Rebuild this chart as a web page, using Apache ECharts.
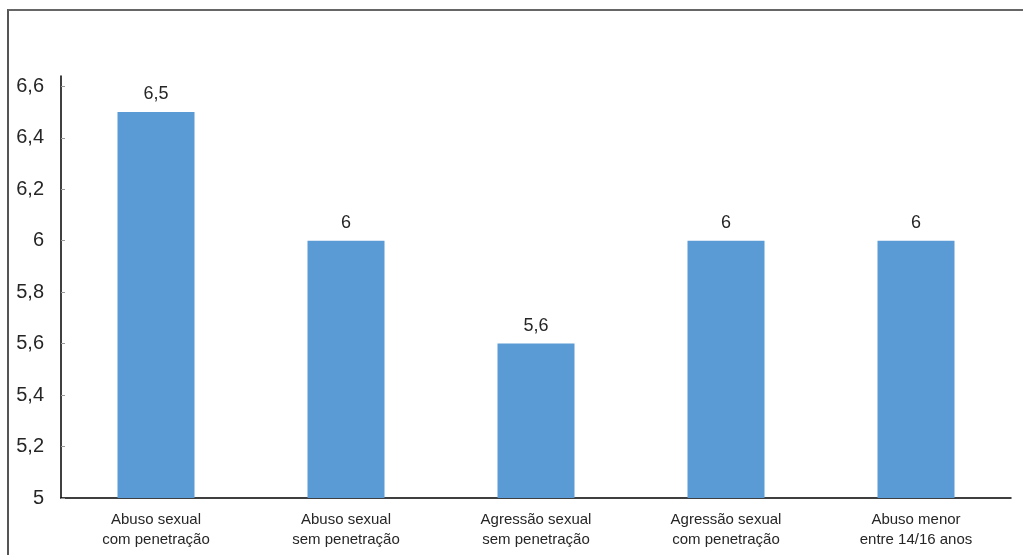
<!DOCTYPE html>
<html>
<head>
<meta charset="utf-8">
<script src="https://cdn.jsdelivr.net/npm/echarts@6/dist/echarts.min.js"></script>
<style>
    html, body { margin: 0; padding: 0; background: #fff; }
    #chart { width: 1023px; height: 555px; }
    #frame {
        position: absolute; left: 7px; top: 9px; right: 0; bottom: 0;
        border-left: 2px solid #555; border-top: 2px solid #666;
        pointer-events: none;
    }
</style>
</head>
<body>
<div id="chart"></div>
<div id="frame"></div>
<script>
    // categorias e valores
    const categorias = [
        'Abuso sexual\ncom penetração',
        'Abuso sexual\nsem penetração',
        'Agressão sexual\nsem penetração',
        'Agressão sexual\ncom penetração',
        'Abuso menor\nentre 14/16 anos'
    ]
    const valores = [6.5, 6, 5.6, 6, 6]
    const ticksY = [5, 5.2, 5.4, 5.6, 5.8, 6, 6.2, 6.4, 6.6]

    const virgula = (v) => String(v).replace('.', ',')

    const myChart = echarts.init(document.getElementById('chart'))
    myChart.setOption({
        animation: false,
        grid: {
            left: 61,
            right: 12,
            top: 76,
            bottom: 57,
        },
        xAxis: {
            type: 'category',
            data: categorias,
            axisLine: { lineStyle: { color: '#000', width: 1.5 } },
            axisTick: { show: false },
            axisLabel: {
                color: '#262626',
                fontFamily: 'Liberation Sans',
                fontSize: 15,
                lineHeight: 20,
                margin: 12,
            },
        },
        yAxis: {
            type: 'value',
            min: 5,
            max: 6.64,
            splitLine: { show: false },
            axisLine: { show: true, lineStyle: { color: '#000', width: 1.5 } },
            axisTick: {
                show: true,
                inside: true,
                length: 4,
                customValues: ticksY,
                lineStyle: { color: '#999' },
            },
            axisLabel: {
                customValues: ticksY,
                color: '#262626',
                fontFamily: 'Liberation Sans',
                fontSize: 20,
                margin: 17,
                formatter: virgula,
            },
        },
        series: [
            {
                type: 'bar',
                data: valores,
                barWidth: 77,
                itemStyle: { color: '#5B9BD5' },
                label: {
                    show: true,
                    position: 'top',
                    distance: 9,
                    color: '#262626',
                    fontFamily: 'Liberation Sans',
                    fontSize: 18,
                    formatter: (p) => virgula(p.value),
                },
            }
        ]
    })
</script>
</body>
</html>
